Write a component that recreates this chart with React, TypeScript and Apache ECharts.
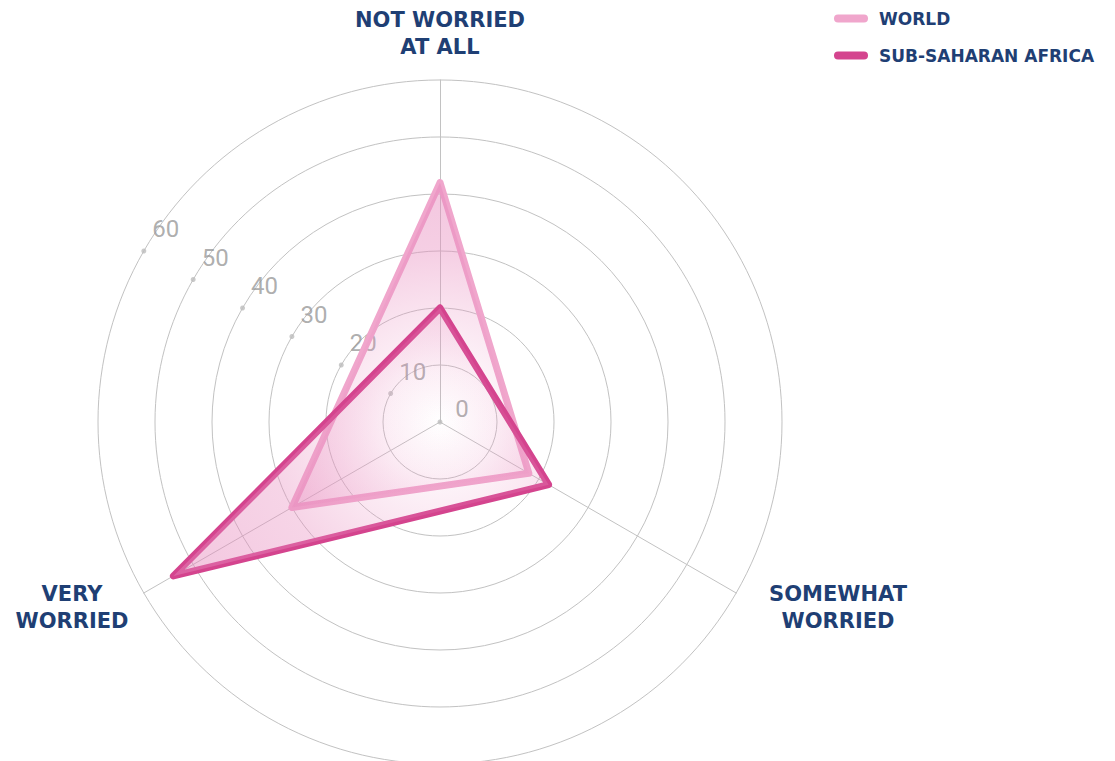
import { useEffect, useRef } from 'react';
import * as echarts from 'echarts';

const indicatorNames = ['NOT WORRIED\nAT ALL', 'VERY\nWORRIED', 'SOMEWHAT\nWORRIED'];
const seriesNames = ['WORLD', 'SUB-SAHARAN AFRICA'];
const worldValues = [42, 30, 18];
const ssaValues = [20, 54, 22];
const tickValues = [0, 10, 20, 30, 40, 50, 60];
const axisMax = 60;

const NAVY = '#1f3f74';
const WORLD_COLOR = '#f0a6cc';
const SSA_COLOR = '#d4448e';

export default function App() {
  const ref = useRef<HTMLDivElement>(null);
  useEffect(() => {
    document.body.style.margin = '0';
    const chart = echarts.init(ref.current!, null, { renderer: 'svg' });
    const cx = 440, cy = 422, R = 342;
    const grad = (a: number) =>
      new echarts.graphic.RadialGradient(cx, cy, R, [
        { offset: 0, color: `rgba(236,150,196,0)` },
        { offset: 0.15, color: `rgba(236,150,196,0.12)` },
        { offset: 0.5, color: `rgba(232,140,190,${a * 0.75})` },
        { offset: 1, color: `rgba(228,130,185,${a})` },
      ], true);
    const nameFont = 'bold 21px "DejaVu Sans"';
    chart.setOption({
      animation: false,
      backgroundColor: '#ffffff',
      legend: {
        orient: 'vertical',
        left: 829,
        top: 5,
        itemWidth: 34,
        itemHeight: 8,
        itemGap: 20,
        icon: 'path://M4,0 H30 A4,4 0 0 1 30,8 H4 A4,4 0 0 1 4,0 Z',
        data: seriesNames,
        textStyle: {
          fontFamily: 'DejaVu Sans',
          fontWeight: 'bold',
          fontSize: 17,
          color: NAVY,
          padding: [0, 0, 0, 6],
        },
      },
      radar: {
        center: [cx, cy],
        radius: R,
        startAngle: 90,
        shape: 'circle',
        splitNumber: 6,
        indicator: indicatorNames.map((n) => ({ name: n, min: 0, max: axisMax })),
        axisName: { show: false },
        axisLine: { lineStyle: { color: '#c2c2c2', width: 1 } },
        splitLine: { lineStyle: { color: '#c2c2c2', width: 1 } },
        splitArea: { show: false },
        axisTick: { show: false },
        axisLabel: { show: false },
      },
      polar: { center: [cx, cy], radius: R },
      angleAxis: { type: 'value', min: 0, max: 360, startAngle: 150, show: false },
      radiusAxis: { type: 'value', min: 0, max: axisMax, show: false },
      series: [
        {
          type: 'scatter',
          coordinateSystem: 'polar',
          z: 1,
          symbolSize: 5,
          silent: true,
          itemStyle: { color: '#bdbdbd' },
          label: {
            show: true,
            position: 'inside',
            color: '#999999',
            fontFamily: 'Roboto',
            fontSize: 24,
            formatter: (p: any) => String(p.value[0]),
          },
          data: tickValues.map((v) => ({
            value: [v, 0],
            label: { offset: v === 0 ? [22, -13] : [22, -22] },
          })),
        },
        {
          type: 'radar',
          z: 3,
          symbol: 'none',
          data: [
            {
              name: seriesNames[0],
              value: worldValues,
              lineStyle: { color: WORLD_COLOR, width: 7, join: 'round', cap: 'round' },
              itemStyle: { color: WORLD_COLOR },
              areaStyle: { color: grad(0.8) },
            },
            {
              name: seriesNames[1],
              value: ssaValues,
              lineStyle: { color: SSA_COLOR, width: 7, join: 'round', cap: 'round' },
              itemStyle: { color: SSA_COLOR },
              areaStyle: { color: grad(0.7) },
            },
          ],
        },
      ],
      graphic: [
        {
          type: 'text',
          x: 440,
          y: 33,
          style: { text: indicatorNames[0], textAlign: 'center', textVerticalAlign: 'middle', font: nameFont, fill: NAVY, lineHeight: 27 },
        },
        {
          type: 'text',
          x: 72,
          y: 607,
          style: { text: indicatorNames[1], textAlign: 'center', textVerticalAlign: 'middle', font: nameFont, fill: NAVY, lineHeight: 27 },
        },
        {
          type: 'text',
          x: 838,
          y: 607,
          style: { text: indicatorNames[2], textAlign: 'center', textVerticalAlign: 'middle', font: nameFont, fill: NAVY, lineHeight: 27 },
        },
      ],
    });
    return () => chart.dispose();
  }, []);
  return <div ref={ref} style={{ width: 1115, height: 761 }} />;
}
